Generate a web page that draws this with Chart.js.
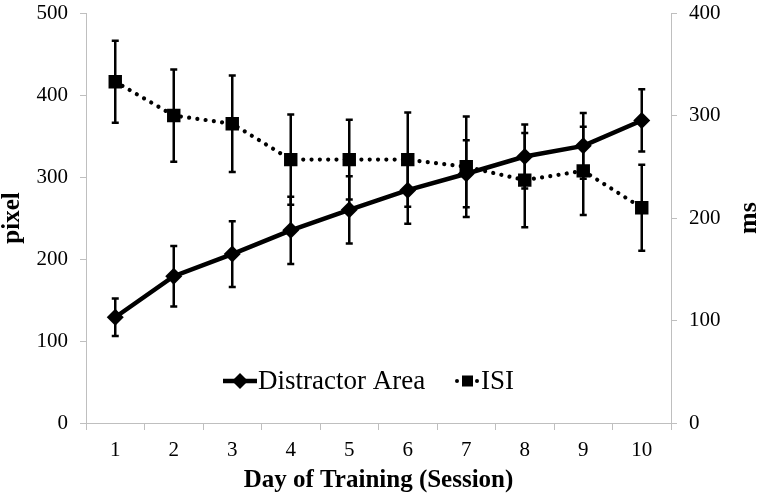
<!DOCTYPE html>
<html>
<head>
<meta charset="utf-8">
<script src="https://cdn.jsdelivr.net/npm/chart.js@4.4.0/dist/chart.umd.min.js"></script>
<style>
html,body{margin:0;padding:0;background:#fff;}
#wrap{width:758px;height:499px;position:relative;}
</style>
</head>
<body>
<div id="wrap"><canvas id="c" width="758" height="499"></canvas></div>
<script>
// ---- data ----
const days = ['1', '2', '3', '4', '5', '6', '7', '8', '9', '10'];
const distractorArea = [129, 179, 206, 235, 260, 284, 304, 325, 338, 369];
const distractorErr  = [23, 37, 40, 41, 41, 41, 41, 39, 40, 38];
const isi            = [333, 300, 292, 257, 257, 257, 250, 237, 246, 210];
const isiErr         = [40, 45, 47, 44, 39, 46, 49, 46, 43, 42];
const pixelAxisMax = 500;
const msAxisMax = 400;
const axisStep = 100;

const FONT = "'Liberation Serif', 'Times New Roman', serif";
const AXIS_GREY = '#bfbfbf';

Chart.defaults.font.family = FONT;
Chart.defaults.color = '#000';

const errorBars = {
  id: 'errorBars',
  beforeDatasetsDraw(chart) {
    const ctx = chart.ctx;
    const x = chart.scales.x;
    const sets = [
      {vals: distractorArea, errs: distractorErr, scale: chart.scales.y},
      {vals: isi, errs: isiErr, scale: chart.scales.y1}
    ];
    ctx.save();
    ctx.strokeStyle = '#000';
    ctx.lineWidth = 2.5;
    ctx.lineCap = 'butt';
    sets.forEach(s => {
      s.vals.forEach((v, i) => {
        const px = x.getPixelForValue(i);
        const top = s.scale.getPixelForValue(v + s.errs[i]);
        const bot = s.scale.getPixelForValue(v - s.errs[i]);
        ctx.beginPath();
        ctx.moveTo(px, top); ctx.lineTo(px, bot);
        ctx.moveTo(px - 3.5, top); ctx.lineTo(px + 3.5, top);
        ctx.moveTo(px - 3.5, bot); ctx.lineTo(px + 3.5, bot);
        ctx.stroke();
      });
    });
    ctx.restore();
  }
};

const extras = {
  id: 'extras',
  afterDraw(chart) {
    const ctx = chart.ctx;
    const a = chart.chartArea;
    ctx.save();
    // right axis title, reading bottom to top
    ctx.font = "bold 26px " + FONT;
    ctx.fillStyle = '#000';
    ctx.textAlign = 'center';
    ctx.textBaseline = 'middle';
    ctx.translate(a.right + 78, (a.top + a.bottom) / 2);
    ctx.rotate(-Math.PI / 2);
    ctx.fillText('ms', 0, 0);
    ctx.restore();

    // legend inside the plot area
    const ly = a.bottom - 42;
    ctx.save();
    ctx.strokeStyle = '#000';
    ctx.fillStyle = '#000';
    // Distractor Area symbol
    const lx1 = a.left + 137;
    ctx.lineWidth = 4.5;
    ctx.beginPath(); ctx.moveTo(lx1, ly); ctx.lineTo(lx1 + 34, ly); ctx.stroke();
    const dcx = lx1 + 17;
    ctx.beginPath();
    ctx.moveTo(dcx, ly - 8); ctx.lineTo(dcx + 8, ly); ctx.lineTo(dcx, ly + 8); ctx.lineTo(dcx - 8, ly);
    ctx.closePath(); ctx.fill();
    ctx.font = "27px " + FONT;
    ctx.textAlign = 'left';
    ctx.textBaseline = 'middle';
    ctx.fillText('Distractor Area', lx1 + 35, ly + 1);
    // ISI symbol
    const lx2 = a.left + 371;
    ctx.beginPath(); ctx.arc(lx2, ly, 2, 0, Math.PI * 2); ctx.fill();
    ctx.beginPath(); ctx.arc(lx2 + 20, ly, 2, 0, Math.PI * 2); ctx.fill();
    ctx.fillRect(lx2 + 5, ly - 5.5, 11, 11);
    ctx.fillText('ISI', lx2 + 24, ly + 1);
    ctx.restore();
  }
};

new Chart(document.getElementById('c'), {
  type: 'line',
  data: {
    labels: days,
    datasets: [
      {
        label: 'Distractor Area',
        data: distractorArea,
        yAxisID: 'y',
        borderColor: '#000',
        backgroundColor: '#000',
        borderWidth: 4.5,
        pointStyle: 'rectRot',
        pointRadius: 8.5,
        pointHoverRadius: 8.5,
        pointBorderWidth: 0,
        tension: 0,
        fill: false,
        order: 2
      },
      {
        label: 'ISI',
        data: isi,
        yAxisID: 'y1',
        borderColor: '#000',
        backgroundColor: '#000',
        borderWidth: 4.2,
        borderDash: [0.01, 8.3],
        borderCapStyle: 'round',
        pointStyle: 'rect',
        pointRadius: 9.5,
        pointHoverRadius: 9.5,
        pointBorderWidth: 0,
        tension: 0,
        fill: false,
        order: 1
      }
    ]
  },
  options: {
    responsive: false,
    devicePixelRatio: 1,
    animation: false,
    layout: {padding: {top: 0, left: 0, right: 0, bottom: 0}},
    plugins: {
      legend: {display: false},
      tooltip: {enabled: false}
    },
    scales: {
      x: {
        type: 'category',
        offset: true,
        grid: {display: true, drawOnChartArea: false, offset: true, tickLength: 7, color: AXIS_GREY},
        border: {display: true, color: AXIS_GREY, width: 1},
        ticks: {font: {size: 21}, color: '#000', padding: 8, maxRotation: 0},
        title: {display: true, text: 'Day of Training (Session)', font: {size: 25, weight: 'bold', lineHeight: 1.2}, color: '#000', padding: {top: 0, bottom: 3}},
        afterFit(s) { s.height = 76; }
      },
      y: {
        position: 'left',
        min: 0, max: pixelAxisMax,
        ticks: {stepSize: axisStep, font: {size: 21, lineHeight: 0.1}, color: '#000', padding: 12},
        grid: {display: true, drawOnChartArea: false, tickLength: 6, color: AXIS_GREY},
        border: {display: true, color: AXIS_GREY, width: 1},
        title: {display: true, text: 'pixel', font: {size: 25, weight: 'bold', lineHeight: 1}, color: '#000', padding: 0},
        afterFit(s) { s.width = 86; }
      },
      y1: {
        position: 'right',
        min: 0, max: msAxisMax,
        ticks: {stepSize: axisStep, font: {size: 21, lineHeight: 0.1}, color: '#000', padding: 12},
        grid: {display: true, drawOnChartArea: false, tickLength: 6, color: AXIS_GREY},
        border: {display: true, color: AXIS_GREY, width: 1},
        title: {display: false},
        afterFit(s) { s.width = 87; }
      }
    }
  },
  plugins: [errorBars, extras]
});
</script>
</body>
</html>
